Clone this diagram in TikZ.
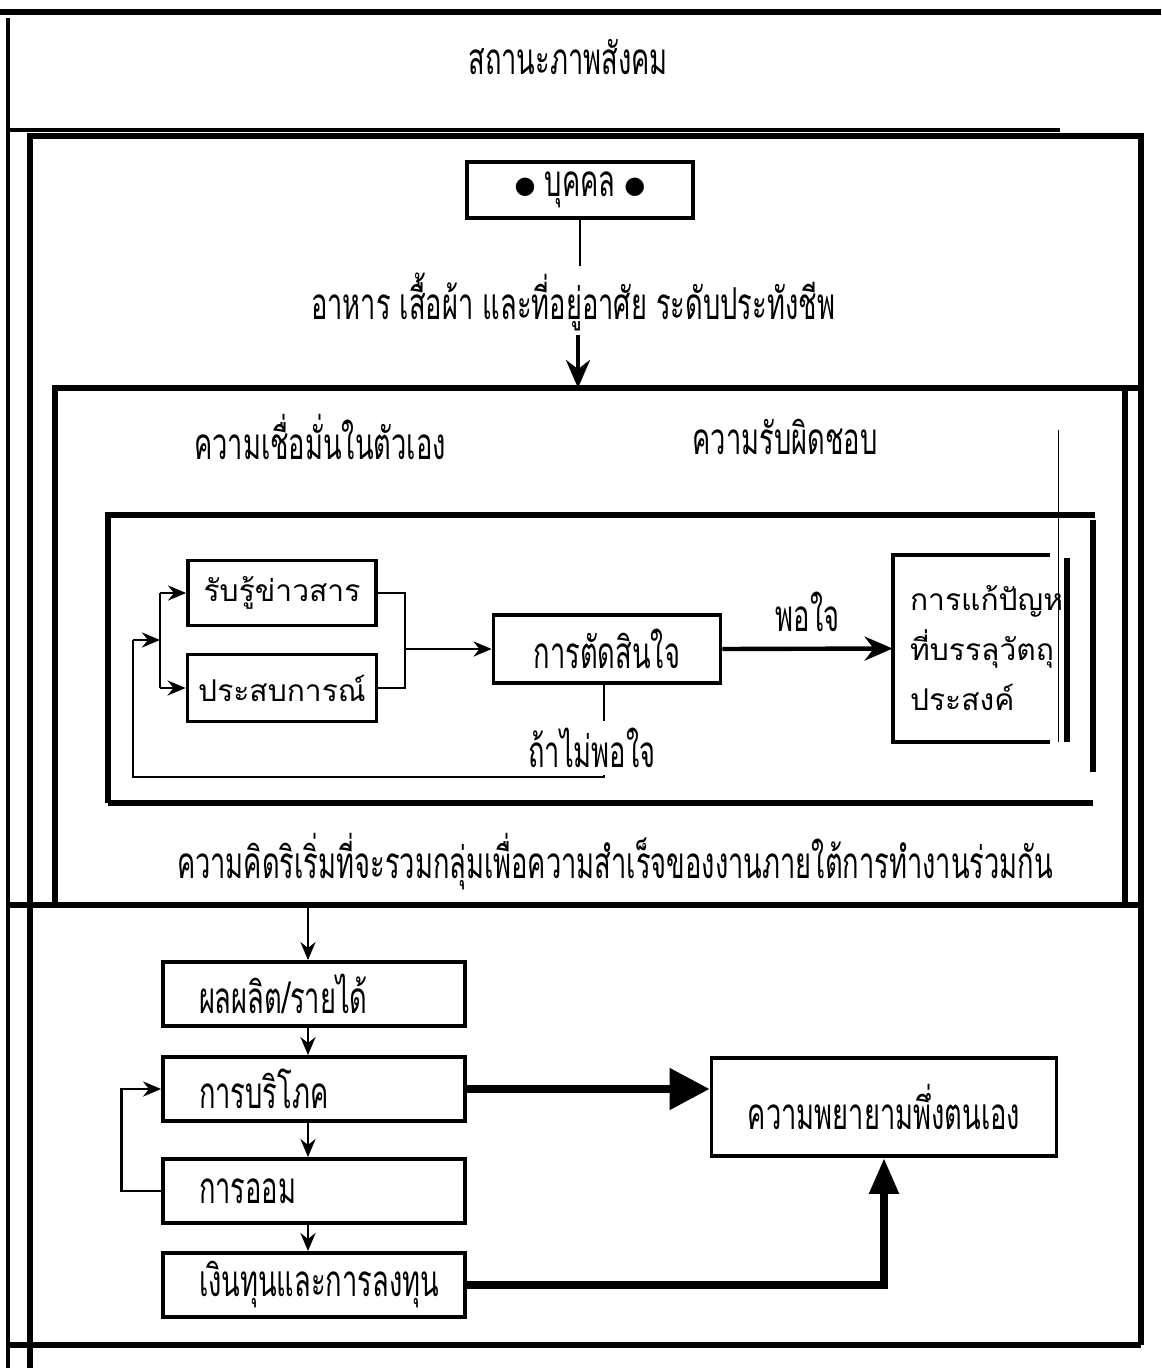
\documentclass[tikz,border=0pt]{standalone}
\usepackage{fontspec}
\usetikzlibrary{arrows.meta,calc}
\newfontfamily\thaic[Script=Thai,FakeStretch=0.62]{Loma}
\newfontfamily\thail[Script=Thai]{Loma}
\newfontfamily\dejavu{DejaVu Sans}
\newcommand{\bigdot}{\raisebox{1.5pt}{\dejavu\fontsize{12}{12}\selectfont ●}}
\begin{document}
\begin{tikzpicture}[x=0.5pt,y=-0.5pt,
  frm/.style={line width=2.6pt},
  thinfrm/.style={line width=1.6pt},
  bx/.style={draw, line width=1.9pt, inner sep=0pt},
  conn/.style={line width=1.4pt},
  arr/.style={conn, -{Stealth[length=9pt,width=7.5pt]}},
  bigarr/.style={line width=2.2pt,-{Stealth[length=14pt,width=12pt]}},
  fatarr/.style={line width=4pt,-{Stealth[length=20pt,width=20pt,inset=0pt]}},
  ctext/.style={font=\thaic\fontsize{22}{24}\selectfont},
  ltext/.style={font=\thail\fontsize{15}{25}\selectfont},
  lbx/.style={bx, ctext, text width=115pt, inner xsep=18pt, align=left, minimum height=32pt},
]
\useasboundingbox (0,0) rectangle (1161,1368);
% outer frames
\draw[frm] (0,12) -- (1161,12);
\draw[thinfrm] (8,18) -- (8,1368);
\draw[thinfrm] (8,130) -- (1060,130);
\draw[frm] (30,1368) -- (30,136) -- (1141,136) -- (1141,1345);
\draw[frm] (10,1345) -- (1141,1345);
\draw[frm] (55,905) -- (55,388) -- (1140,388);
\draw[frm] (1125,388) -- (1125,905);
\draw[frm] (10,905) -- (1141,905);
% inner frame
\draw[frm] (108,803) -- (108,515) -- (1095,515);
\draw[frm] (1093,520) -- (1093,772);
\draw[frm] (108,803) -- (1093,803);

% title and top
\node[ctext] (title) at (568,57) {สถานะภาพสังคม};
\node[bx, ctext, minimum width=113pt, minimum height=28pt] (person) at (580,190)
  {\bigdot\ บุคคล \bigdot};
\node[ctext] (food) at (573,302) {อาหาร เสื้อผ้า และที่อยู่อาศัย ระดับประทังชีพ};
\coordinate (b3top) at (578,388);
\coordinate (foodout) at (578,335);
\draw[conn] (person.south) -- (person.south |- food.north);
\draw[bigarr] (foodout) -- (b3top);

\node[ctext] (conf) at (320,437) {ความเชื่อมั่นในตัวเอง};
\node[ctext] (resp) at (785,437) {ความรับผิดชอบ};

% inner diagram
\node[bx, ltext, minimum width=94pt, minimum height=32.5pt] (info) at (282,593) {รับรู้ข่าวสาร};
\node[bx, ltext, minimum width=94.5pt, minimum height=33.5pt] (exp) at (282,688) {ประสบการณ์};
\node[bx, ctext, minimum width=113.5pt, minimum height=34pt] (dec) at (607,649) {การตัดสินใจ};
\node[minimum width=78.5pt, minimum height=93.5pt, inner sep=0pt] (goal) at (971.5,648.5) {};
\draw[line width=2pt] (goal.north east) -- (goal.north west) -- (goal.south west) -- (goal.south east);
\node[ltext, align=left, anchor=west] (goaltxt) at (903,648) {การแก้ปัญห\\ที่บรรลุวัตถุ\\ประสงค์};
\draw[line width=0.5pt] (1058,430) -- (1058,742);
\draw[line width=2.6pt] (1067,558) -- (1067,742);

\coordinate (jn) at (160,640);
\coordinate (mg) at (405,649);
\draw[arr] (jn |- info.west) -- (info.west);
\draw[arr] (jn |- exp.west) -- (exp.west);
\draw[conn] (jn |- info.west) -- (jn |- exp.west);
\draw[conn] (info.east) -| (mg) |- (exp.east);
\draw[arr] (mg) -- (dec.west);
\draw[bigarr] (dec.east) -- node[ctext, above=4pt] (sat) {พอใจ} (goal.west);
\node[ctext] (nsat) at (592,748) {ถ้าไม่พอใจ};
\coordinate (fb1) at (604,777);
\coordinate (fb2) at (133,777);
\draw[conn] (dec.south -| fb1) -- (nsat.north -| fb1);
\draw[conn] (fb1 |- nsat.south) -- (fb1) -- (fb2) -- (fb2 |- jn);
\draw[arr] (fb2 |- jn) -- (jn);

\node[ctext] (idea) at (615,862) {ความคิดริเริ่มที่จะรวมกลุ่มเพื่อความสำเร็จของงานภายใต้การทำงานร่วมกัน};

% bottom section
\node[lbx] (prod) at (314,994) {ผลผลิต/รายได้};
\node[lbx] (cons) at (314,1089) {การบริโภค};
\node[lbx] (save) at (314,1191) {การออม};
\node[lbx] (inv) at (314,1285) {เงินทุนและการลงทุน};
\node[bx, ctext, minimum width=172.5pt, minimum height=49pt] (eff) at (884,1107) {ความพยายามพึ่งตนเอง};
\coordinate (b3out) at (308,905);
\draw[arr] (b3out) -- (b3out |- prod.north);
\draw[arr] (prod.south -| b3out) -- (cons.north -| b3out);
\draw[arr] (cons.south -| b3out) -- (save.north -| b3out);
\draw[arr] (save.south -| b3out) -- (inv.north -| b3out);
\draw[arr] (save.west) -- ++(-40,0) |- (cons.west);
\draw[fatarr] (cons.east) -- (cons.east -| eff.west);
\draw[line width=4pt,-{Stealth[length=18pt,width=14pt,inset=0pt]}] (inv.east) -| (eff.south);
\end{tikzpicture}
\end{document}
